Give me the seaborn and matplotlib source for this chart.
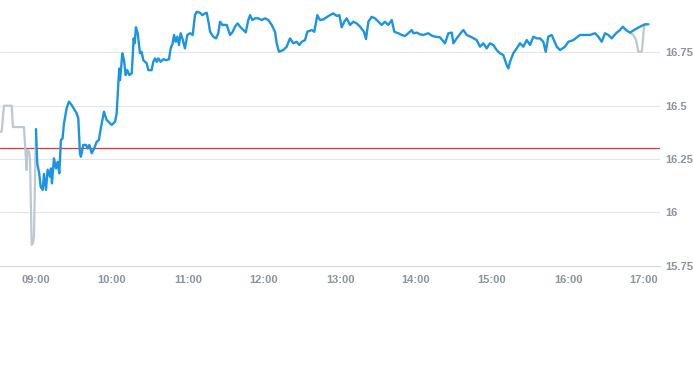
import numpy as np
import pandas as pd
import seaborn as sns
import matplotlib
matplotlib.use("Agg")
import matplotlib.pyplot as plt
from matplotlib.ticker import FuncFormatter

# ---- data (minutes relative to 09:00 session open, price) ----
session_minutes = [0, 1, 2.6, 3.7, 5.3, 6.3, 7.9, 9.2, 11, 11.8, 12.6, 14.2, 15.8, 17.1, 18.4, 19.7, 21, 22.1, 24.2, 26,
                   28.2, 32.1, 33.4, 34.7, 35.5, 37.3, 39.5, 40.8, 42.1, 44, 46, 47.9, 49.7, 50.5, 51.9, 53.7, 55.8, 59.8, 62.4, 63.7,
                   65, 65.8, 66.3, 67.1, 68.1, 69.5, 70.8, 72.1, 73.7, 75.6, 76.3, 77.1, 77.9, 78.9, 80.3, 82.1, 83.4, 84.7, 87.4, 88.7,
                   91.3, 92.6, 94, 95.3, 96.6, 98.4, 100.5, 103.2, 105, 106.3, 107.9, 109, 110.3, 111.6, 112.9, 114.2, 115.8, 117.6, 119.5, 121.6,
                   123.7, 125.5, 126.9, 129.5, 131.3, 133.4, 134.8, 136.6, 137.4, 140, 142.1, 143.9, 145.3, 147.1, 150.6, 153.2, 155.3, 157.1, 159.2, 161.1,
                   163.7, 165.6, 167.6, 169, 170.8, 172.9, 175.5, 178.2, 180.8, 183.4, 186.1, 188.7, 190, 191.8, 195.2, 197.9, 200.5, 203.1, 205.8, 207.9,
                   209.8, 212.4, 214.2, 217.7, 219.7, 222.1, 224.2, 226.8, 229.5, 232.1, 234.7, 237.4, 239.5, 241.3, 243.4, 245.3, 247.9, 250.5, 253.2, 255.8,
                   258.9, 260.5, 262.4, 265, 267.6, 270.3, 272.9, 275.5, 278.1, 280.8, 282.9, 286, 288.7, 291.3, 293.9, 296.6, 297.9, 300.6, 303.2, 305.8,
                   309.7, 312.4, 315, 318.9, 322.9, 325.5, 328.2, 329.5, 332.1, 336.1, 337.4, 340, 344, 347.9, 350.5, 353.1, 355.8, 358.4, 361, 363.7,
                   366.3, 368.9, 371.6, 372.9, 374.2, 376.8, 379.5, 382.1, 384.7, 387.4, 390, 392.6, 395.3, 397.9, 400.5, 402.4, 404.4, 407.1, 411.1, 413.7,
                   417.6, 420.3, 424.2, 429.5, 433.4, 437.4, 441.3, 443.9, 446.6, 449.2, 451.8, 454.5, 457.9, 461, 463.2, 465.8, 468.9, 472.9, 476.8, 480.8,
                   483.4]
session_prices = [16.39, 16.23, 16.18, 16.12, 16.105, 16.18, 16.105, 16.20, 16.167, 16.206, 16.136, 16.253, 16.206, 16.237, 16.183, 16.339, 16.347, 16.417, 16.488, 16.519,
                  16.503, 16.464, 16.441, 16.277, 16.261, 16.316, 16.316, 16.30, 16.316, 16.277, 16.30, 16.331, 16.339, 16.371, 16.417, 16.472, 16.433, 16.41, 16.425, 16.464,
                  16.605, 16.675, 16.62, 16.667, 16.746, 16.714, 16.644, 16.667, 16.644, 16.652, 16.73, 16.816, 16.793, 16.868, 16.84, 16.746, 16.753, 16.714, 16.699, 16.667,
                  16.667, 16.706, 16.722, 16.706, 16.722, 16.706, 16.718, 16.714, 16.718, 16.769, 16.793, 16.832, 16.80, 16.824, 16.785, 16.84, 16.811, 16.769, 16.832, 16.84,
                  16.832, 16.925, 16.941, 16.936, 16.925, 16.933, 16.936, 16.879, 16.847, 16.824, 16.816, 16.84, 16.894, 16.879, 16.879, 16.832, 16.847, 16.871, 16.886, 16.871,
                  16.855, 16.844, 16.902, 16.925, 16.902, 16.91, 16.91, 16.902, 16.91, 16.902, 16.879, 16.847, 16.793, 16.753, 16.761, 16.777, 16.816, 16.793, 16.80, 16.785,
                  16.80, 16.808, 16.847, 16.855, 16.847, 16.925, 16.902, 16.905, 16.915, 16.925, 16.933, 16.921, 16.925, 16.868, 16.894, 16.91, 16.879, 16.894, 16.886, 16.871,
                  16.847, 16.813, 16.894, 16.917, 16.91, 16.894, 16.879, 16.894, 16.879, 16.902, 16.847, 16.84, 16.832, 16.827, 16.84, 16.855, 16.84, 16.843, 16.835, 16.832,
                  16.84, 16.829, 16.824, 16.821, 16.793, 16.84, 16.843, 16.793, 16.816, 16.847, 16.855, 16.832, 16.821, 16.808, 16.777, 16.793, 16.769, 16.793, 16.785, 16.761,
                  16.746, 16.738, 16.69, 16.675, 16.706, 16.746, 16.769, 16.793, 16.777, 16.808, 16.785, 16.824, 16.816, 16.816, 16.80, 16.753, 16.824, 16.832, 16.777, 16.761,
                  16.777, 16.80, 16.808, 16.832, 16.832, 16.832, 16.84, 16.824, 16.80, 16.84, 16.832, 16.816, 16.84, 16.855, 16.871, 16.855, 16.843, 16.858, 16.871, 16.882,
                  16.882]

pre_minutes = [-28.4, -27.1, -25.3, -19.2, -18.2, -9.5, -8.4, -7.3, -6.8, -5.3, -4.7, -3.4, -2.4, -1.6, 0]
pre_prices = [16.378, 16.378, 16.50, 16.50, 16.40, 16.40, 16.292, 16.198, 16.292, 16.283, 16.245, 15.847, 15.856, 15.886, 16.39]

post_minutes = [468.9, 471.6, 473.7, 475.5, 478.2, 479, 480, 480.8]
post_prices = [16.843, 16.832, 16.808, 16.753, 16.753, 16.80, 16.871, 16.882]

previous_close = 16.30
y_ticks = [15.75, 16.0, 16.25, 16.5, 16.75]
hour_ticks = ["09:00", "10:00", "11:00", "12:00", "13:00", "14:00", "15:00", "16:00", "17:00"]

assert len(session_minutes) == len(session_prices), (len(session_minutes), len(session_prices))

base = pd.Timestamp("2024-01-02 09:00")
def to_time(mins):
    return base + pd.to_timedelta(np.asarray(mins, dtype=float), unit="min")

session = pd.DataFrame({"time": to_time(session_minutes), "price": session_prices})
pre = pd.DataFrame({"time": to_time(pre_minutes), "price": pre_prices})
post = pd.DataFrame({"time": to_time(post_minutes), "price": post_prices})

sns.set_theme(style="white")
plt.rcParams["font.family"] = ["Liberation Sans", "DejaVu Sans"]

fig = plt.figure(figsize=(6.93, 3.65), dpi=100)
ax = fig.add_axes([0, 1 - 265.6 / 365, 660 / 693, 265.6 / 365])

grey = "#bcc8d2"
blue = "#1b95df"
sns.lineplot(data=pre, x="time", y="price", ax=ax, color=grey, lw=1.6, sort=False, estimator=None)
sns.lineplot(data=post, x="time", y="price", ax=ax, color=grey, lw=1.6, sort=False, estimator=None)
sns.lineplot(data=session, x="time", y="price", ax=ax, color=blue, lw=1.7, sort=False, estimator=None)
ax.axhline(previous_close, color="#d8393a", lw=0.9, zorder=1)

ax.set_xlim(to_time([-28.4])[0], to_time([492.6])[0])
ax.set_ylim(15.75, 16.996)

for yv in y_ticks[1:]:
    ax.axhline(yv, color="#e6e6e6", lw=0.8, zorder=0)

ax.set_xticks(to_time([60 * i for i in range(len(hour_ticks))]))
ax.set_xticklabels(hour_ticks)
ax.yaxis.tick_right()
ax.set_yticks(y_ticks)
ax.yaxis.set_major_formatter(FuncFormatter(lambda v, p: f"{v:g}"))

lab_col = "#8a93a0"
ax.tick_params(axis="x", length=3.6, width=0.8, color="#ccd6eb", pad=3.0,
               labelsize=8.0, labelcolor=lab_col)
ax.tick_params(axis="y", length=0, pad=3.5, labelsize=8.0, labelcolor=lab_col)
for lbl in ax.get_xticklabels() + ax.get_yticklabels():
    lbl.set_fontweight("bold")

for s in ["top", "left", "right"]:
    ax.spines[s].set_visible(False)
ax.spines["bottom"].set_color("#ccd6eb")
ax.spines["bottom"].set_linewidth(0.8)
ax.set_xlabel("")
ax.set_ylabel("")
ax.grid(False)
ax.set_facecolor("white")
fig.patch.set_facecolor("white")

fig.savefig("out.png", dpi=100, facecolor="white")
